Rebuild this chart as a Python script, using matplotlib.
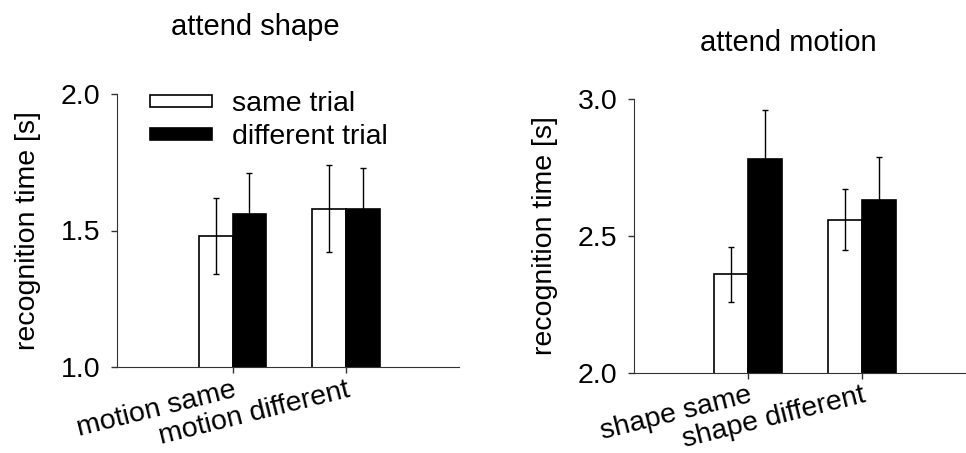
import matplotlib
matplotlib.use("Agg")
import matplotlib.pyplot as plt
from matplotlib.patches import Patch
import numpy as np

plt.rcParams["font.family"] = ["Liberation Sans", "DejaVu Sans"]

# attend shape panel
shape_cats = ["motion same", "motion different"]
shape_same = [1.48, 1.58]
shape_same_err = [0.14, 0.16]
shape_diff = [1.56, 1.58]
shape_diff_err = [0.15, 0.15]

# attend motion panel
motion_cats = ["shape same", "shape different"]
motion_same = [2.36, 2.56]
motion_same_err = [0.10, 0.11]
motion_diff = [2.78, 2.63]
motion_diff_err = [0.18, 0.16]

series_labels = ["same trial", "different trial"]


def bar_panel(ax, cats, same, same_err, diff, diff_err, ylim, yticks, xlim):
    x = np.arange(len(cats))
    w = 0.3
    ax.bar(x - w / 2, same, w, color="white", edgecolor="black", linewidth=1.2, zorder=2)
    ax.bar(x + w / 2, diff, w, color="black", edgecolor="black", linewidth=1.2, zorder=2)
    ax.errorbar(x - w / 2, same, yerr=same_err, fmt="none", ecolor="black", elinewidth=1, capsize=2.5, zorder=3)
    ax.errorbar(x + w / 2, diff, yerr=diff_err, fmt="none", ecolor="black", elinewidth=1, capsize=2.5, zorder=3)
    ax.set_ylim(ylim)
    ax.set_xlim(xlim)
    ax.set_yticks(yticks)
    ax.set_yticklabels(["%.1f" % v for v in yticks], fontsize=20.5)
    ax.set_xticks(x)
    ax.set_xticklabels(cats, rotation=14, ha="right", rotation_mode="anchor", fontsize=20.5)
    ax.spines["top"].set_visible(False)
    ax.spines["right"].set_visible(False)
    ax.spines["left"].set_color("#333333")
    ax.spines["bottom"].set_color("#333333")
    ax.tick_params(axis="both", direction="out", length=4, width=1, color="#333333")
    ax.tick_params(axis="y", pad=8)
    ax.tick_params(axis="x", pad=3)
    ax.set_ylabel("recognition time [s]", fontsize=20.5, labelpad=14)


def main():
    fig = plt.figure(figsize=(9.66, 4.53), dpi=100)

    ax1 = fig.add_axes([117 / 966, 86 / 453, 342 / 966, 273 / 453])
    bar_panel(ax1, shape_cats, shape_same, shape_same_err, shape_diff, shape_diff_err,
              (1.0, 2.0), [1.0, 1.5, 2.0], (-1.02, 2.0))

    ax2 = fig.add_axes([634 / 966, 80 / 453, 332 / 966, 274 / 453])
    bar_panel(ax2, motion_cats, motion_same, motion_same_err, motion_diff, motion_diff_err,
              (2.0, 3.0), [2.0, 2.5, 3.0], (-1.0, 1.91))

    handles = [Patch(facecolor="white", edgecolor="black", linewidth=1.2),
               Patch(facecolor="black", edgecolor="black", linewidth=1.2)]
    ax1.legend(handles, series_labels, loc="upper left", bbox_to_anchor=(0.096, 1.01),
               frameon=False, fontsize=20.5, handlelength=2.2, handleheight=0.3,
               handletextpad=0.7, labelspacing=0.25, borderpad=0, borderaxespad=0)

    fig.text(171 / 966, 1 - 27 / 453, "attend shape", fontsize=21, ha="left", va="center")
    fig.text(700 / 966, 1 - 43 / 453, "attend motion", fontsize=21, ha="left", va="center")

    fig.savefig("out.png", dpi=100)
    plt.close(fig)


if __name__ == "__main__":
    main()
